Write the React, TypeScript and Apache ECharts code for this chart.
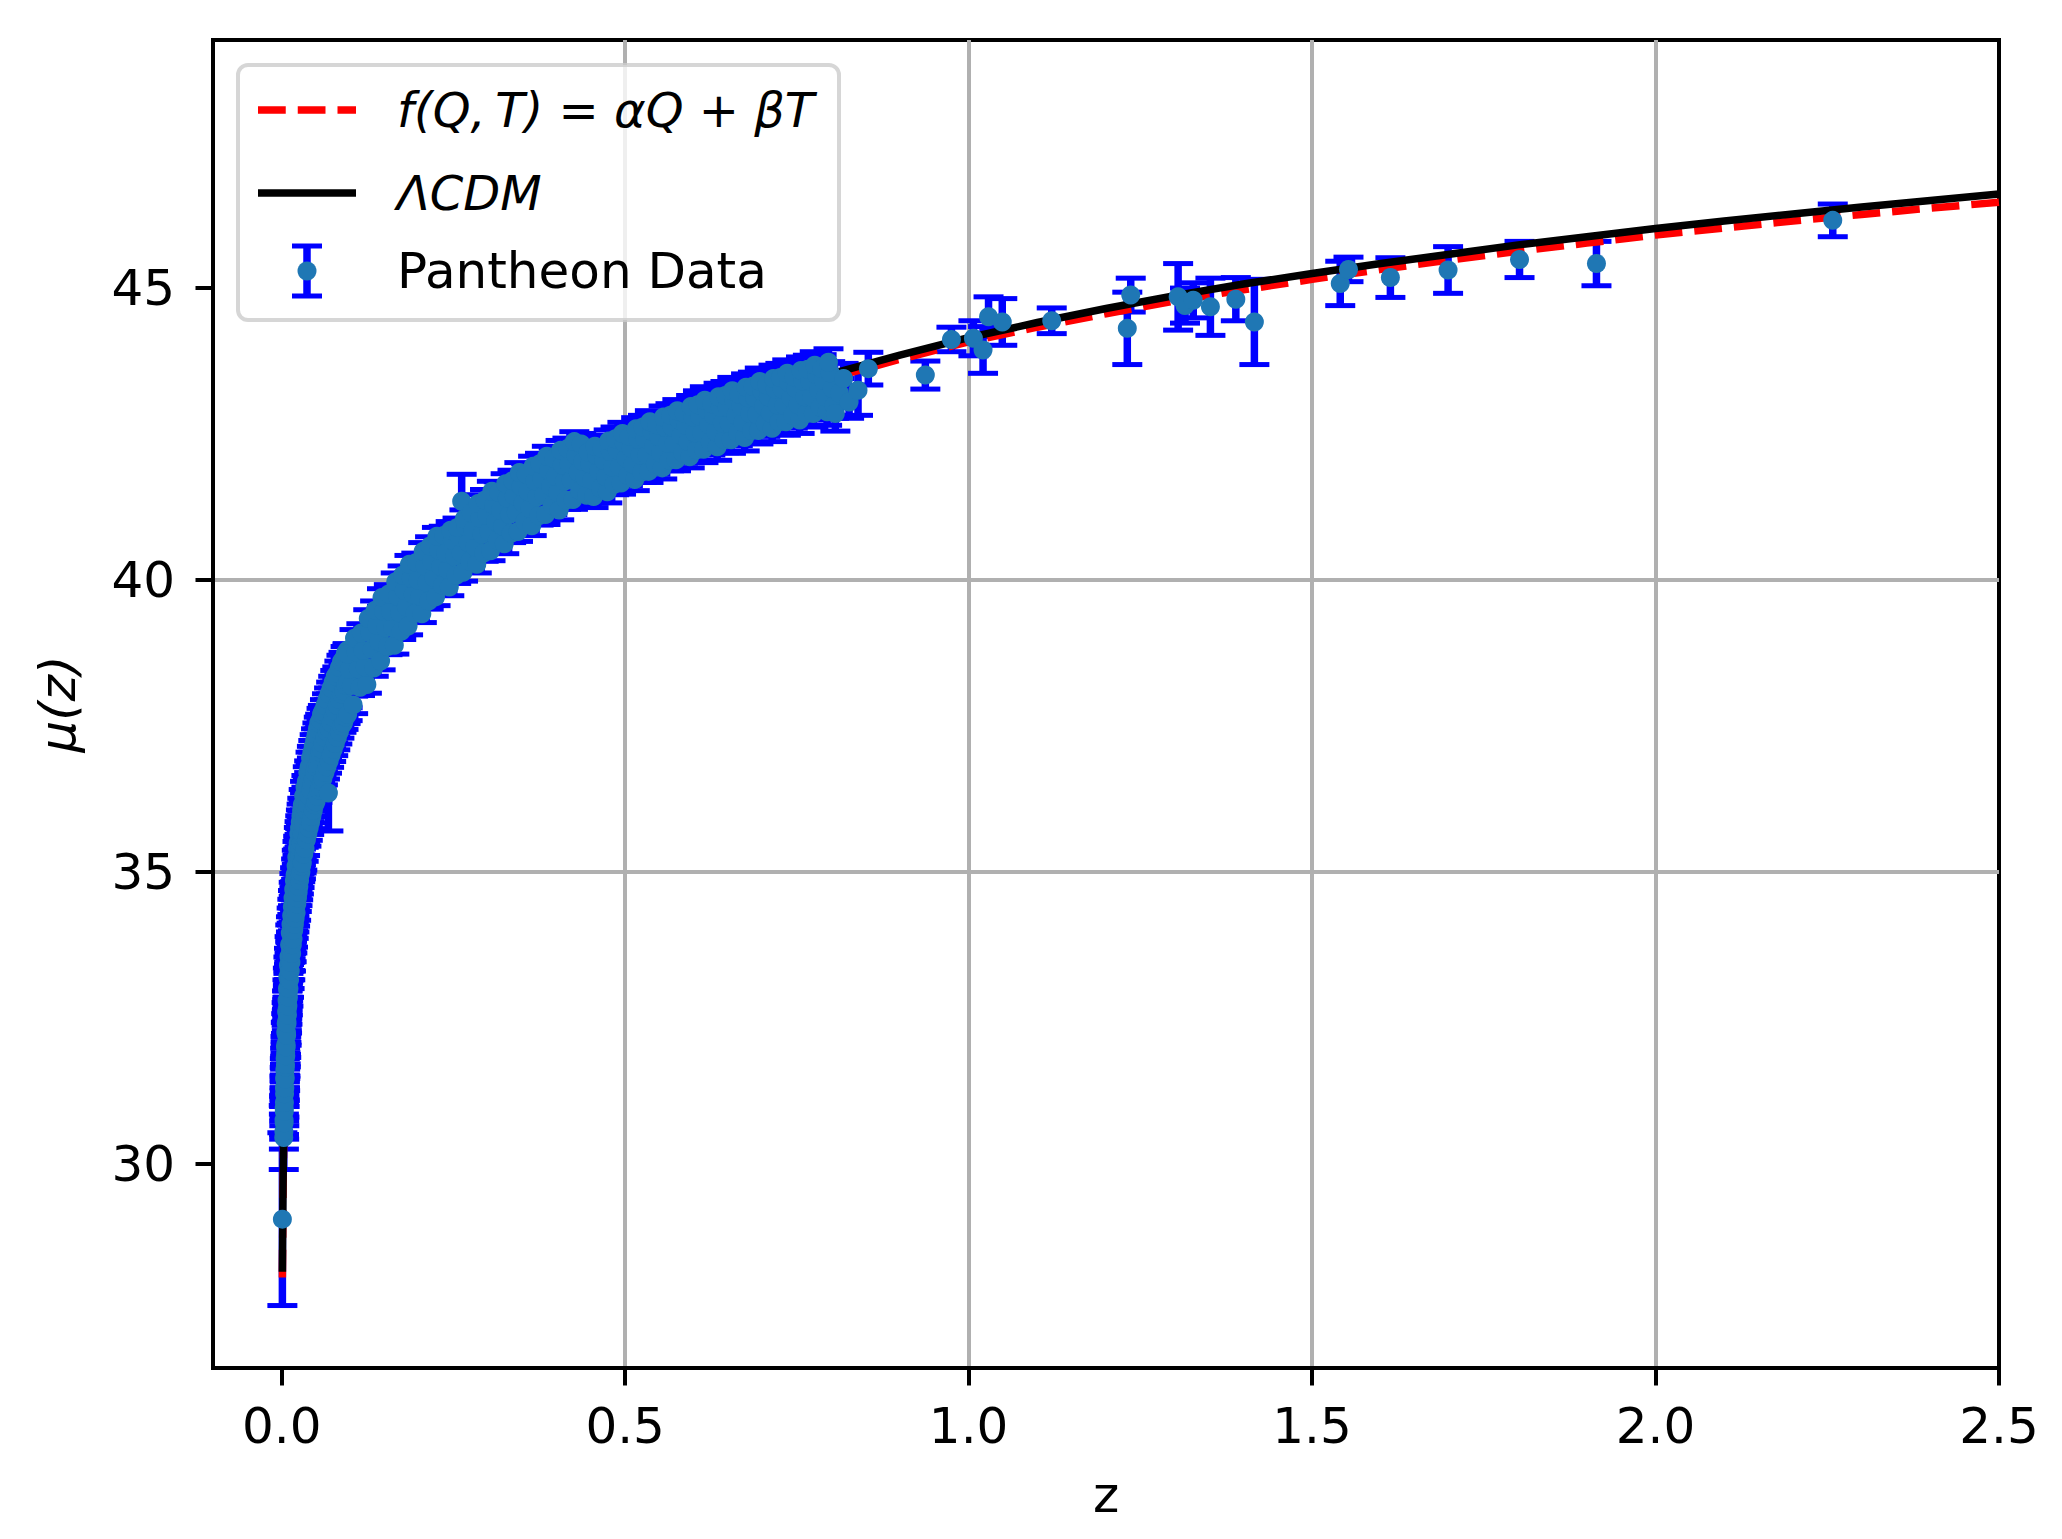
import { useEffect, useRef } from "react";
import * as echarts from "echarts";

// model curves
const zModel = [
  0.001, 0.002, 0.003, 0.005, 0.007, 0.01, 0.015, 0.02, 0.03, 0.04, 0.05, 0.07, 0.1, 0.13, 0.16, 0.2, 0.25,
  0.3, 0.35, 0.4, 0.5, 0.6, 0.7, 0.8, 0.9, 1.0, 1.1, 1.2, 1.3, 1.4, 1.5, 1.6, 1.7, 1.8, 1.9, 2.0, 2.1, 2.2,
  2.3, 2.4, 2.5,
];
const muLCDM = [
  28.15, 29.66, 30.54, 31.66, 32.4, 33.18, 34.07, 34.7, 35.6, 36.24, 36.74, 37.5, 38.31, 38.89, 39.38, 39.92,
  40.48, 40.95, 41.36, 41.7, 42.29, 42.77, 43.18, 43.53, 43.85, 44.15, 44.41, 44.65, 44.87, 45.07, 45.25,
  45.42, 45.58, 45.74, 45.88, 46.02, 46.15, 46.27, 46.39, 46.5, 46.61,
];
const muFQT = [
  28.05, 29.6, 30.5, 31.64, 32.38, 33.17, 34.06, 34.69, 35.59, 36.23, 36.73, 37.49, 38.3, 38.88, 39.37, 39.91,
  40.47, 40.93, 41.33, 41.67, 42.25, 42.72, 43.12, 43.46, 43.78, 44.08, 44.33, 44.56, 44.78, 44.97, 45.15,
  45.32, 45.48, 45.63, 45.77, 45.91, 46.03, 46.15, 46.26, 46.37, 46.47,
];

// Pantheon points: [z, mu, error]
const pantheonLowZ = [
  [0.001, 29.05, 1.48], [0.003, 30.45, 0.55], [0.0032, 30.55, 0.3], [0.0034, 30.75, 0.25],
  [0.0036, 30.7, 0.28], [0.0036, 30.95, 0.22], [0.0038, 30.9, 0.25], [0.004, 31.05, 0.25], [0.004, 31.3, 0.2],
  [0.0042, 31.2, 0.22], [0.0044, 31.45, 0.2], [0.0046, 31.3, 0.22], [0.0046, 31.6, 0.2], [0.0048, 31.5, 0.2],
  [0.005, 31.45, 0.2], [0.005, 31.8, 0.18], [0.0052, 31.65, 0.19], [0.0055, 31.7, 0.2], [0.0055, 32.0, 0.18],
  [0.0058, 31.9, 0.19], [0.006, 31.85, 0.19], [0.006, 32.25, 0.17], [0.0063, 32.05, 0.18], [0.0066, 32.0, 0.18],
  [0.0066, 32.4, 0.17], [0.0069, 32.25, 0.17], [0.0072, 32.2, 0.17], [0.0072, 32.6, 0.16], [0.0075, 32.45, 0.17],
  [0.0078, 32.4, 0.16], [0.0078, 32.8, 0.16], [0.0081, 32.65, 0.16], [0.0084, 32.55, 0.16], [0.0084, 33.0, 0.15],
  [0.0087, 32.8, 0.16], [0.009, 32.7, 0.15], [0.009, 33.2, 0.15], [0.0094, 32.95, 0.16], [0.0098, 32.85, 0.15],
  [0.0098, 33.4, 0.14], [0.0102, 33.15, 0.15], [0.0106, 33.0, 0.15], [0.0106, 33.55, 0.14], [0.011, 33.3, 0.15],
  [0.0115, 33.15, 0.15], [0.0115, 33.75, 0.14], [0.012, 33.45, 0.14], [0.0125, 33.3, 0.15], [0.0125, 33.95, 0.14],
  [0.013, 33.65, 0.14], [0.0135, 33.45, 0.15], [0.0135, 34.1, 0.13], [0.014, 33.8, 0.14], [0.0145, 33.6, 0.14],
  [0.0145, 34.25, 0.13], [0.015, 33.95, 0.14], [0.0155, 33.75, 0.14], [0.0155, 34.4, 0.13], [0.016, 34.1, 0.13],
  [0.0165, 33.85, 0.14], [0.0165, 34.55, 0.13], [0.017, 34.25, 0.13], [0.0175, 34.0, 0.14], [0.0175, 34.7, 0.12],
  [0.018, 34.4, 0.13], [0.0185, 34.1, 0.13], [0.0185, 34.85, 0.12], [0.019, 34.5, 0.13], [0.0195, 34.2, 0.13],
  [0.0195, 34.95, 0.12], [0.02, 34.65, 0.12],
  [0.021, 34.3, 0.13], [0.021, 35.1, 0.12], [0.021, 34.75, 0.12],
  [0.022, 34.45, 0.13], [0.022, 35.25, 0.12], [0.022, 34.9, 0.12],
  [0.023, 34.55, 0.13], [0.023, 35.4, 0.12], [0.023, 35.0, 0.12],
  [0.024, 34.65, 0.13], [0.024, 35.5, 0.11], [0.024, 35.1, 0.12],
  [0.025, 34.75, 0.13], [0.025, 35.65, 0.11], [0.025, 35.25, 0.12],
  [0.026, 34.85, 0.12], [0.026, 35.75, 0.11], [0.026, 35.3, 0.12],
  [0.027, 34.95, 0.12], [0.027, 35.85, 0.11], [0.027, 35.4, 0.11],
  [0.028, 35.0, 0.12], [0.028, 35.95, 0.11], [0.028, 35.5, 0.11],
  [0.029, 35.1, 0.12], [0.029, 36.05, 0.11], [0.029, 35.6, 0.11],
  [0.03, 35.15, 0.12], [0.03, 36.15, 0.11], [0.03, 35.65, 0.11],
  [0.032, 35.3, 0.12], [0.032, 36.3, 0.11], [0.032, 35.8, 0.11],
  [0.034, 35.4, 0.12], [0.034, 36.45, 0.1], [0.034, 35.95, 0.11],
  [0.036, 35.55, 0.11], [0.036, 36.55, 0.1], [0.036, 36.05, 0.11],
  [0.038, 35.65, 0.11], [0.038, 36.7, 0.1], [0.038, 36.15, 0.1],
  [0.04, 35.75, 0.11], [0.04, 36.8, 0.1], [0.04, 36.3, 0.1],
  [0.042, 35.85, 0.11], [0.042, 36.95, 0.1], [0.042, 36.4, 0.1],
  [0.044, 35.95, 0.11], [0.044, 37.05, 0.1], [0.044, 36.5, 0.1],
  [0.046, 36.05, 0.11], [0.046, 37.15, 0.1], [0.046, 36.6, 0.1],
  [0.048, 36.15, 0.11], [0.048, 37.25, 0.1], [0.048, 36.7, 0.1],
  [0.05, 36.2, 0.11], [0.05, 37.35, 0.1], [0.05, 36.8, 0.1],
  [0.052, 36.3, 0.11], [0.052, 37.45, 0.1], [0.052, 36.85, 0.1],
  [0.054, 36.4, 0.11], [0.054, 37.55, 0.1], [0.054, 36.95, 0.1],
  [0.056, 36.45, 0.11], [0.056, 37.6, 0.1], [0.056, 37.05, 0.1],
  [0.058, 36.55, 0.11], [0.058, 37.7, 0.1], [0.058, 37.1, 0.1],
  [0.06, 36.6, 0.11], [0.06, 37.75, 0.1], [0.06, 37.2, 0.1],
  [0.063, 36.7, 0.11], [0.063, 37.85, 0.1], [0.063, 37.3, 0.1],
  [0.066, 36.8, 0.11], [0.066, 37.95, 0.1], [0.066, 37.4, 0.1],
  [0.068, 36.35, 0.65],
  [0.069, 36.9, 0.11], [0.069, 38.05, 0.1], [0.069, 37.45, 0.1],
  [0.072, 37.0, 0.11], [0.072, 38.15, 0.1], [0.072, 37.55, 0.1],
  [0.075, 37.1, 0.11], [0.075, 38.25, 0.1], [0.075, 37.65, 0.1],
  [0.078, 37.2, 0.11], [0.078, 38.35, 0.1], [0.078, 37.75, 0.1],
  [0.081, 37.3, 0.11], [0.081, 38.4, 0.11], [0.081, 37.85, 0.1],
  [0.084, 37.4, 0.11], [0.084, 38.5, 0.11], [0.084, 37.95, 0.1],
  [0.087, 37.5, 0.11], [0.087, 38.6, 0.11], [0.087, 38.05, 0.1],
  [0.09, 37.55, 0.11], [0.09, 38.65, 0.11], [0.09, 38.1, 0.1],
  [0.093, 37.65, 0.11], [0.093, 38.75, 0.11], [0.093, 38.2, 0.1],
  [0.096, 37.7, 0.11], [0.096, 38.8, 0.11], [0.096, 38.25, 0.1],
];

const pantheonMidZ = [
  [0.104, 37.86, 0.15], [0.1015, 38.19, 0.12], [0.0985, 38.47, 0.13], [0.096, 38.73, 0.16],
  [0.114, 38.16, 0.14], [0.1115, 38.48, 0.12], [0.1085, 38.76, 0.12], [0.106, 39.0, 0.15],
  [0.124, 38.21, 0.15], [0.1215, 38.51, 0.12], [0.1185, 38.79, 0.13], [0.116, 39.09, 0.16],
  [0.134, 38.49, 0.14], [0.1315, 38.81, 0.12], [0.1285, 39.09, 0.12], [0.126, 39.34, 0.15],
  [0.144, 38.61, 0.15], [0.1415, 38.94, 0.12], [0.1385, 39.22, 0.13], [0.136, 39.48, 0.16],
  [0.154, 38.86, 0.14], [0.1515, 39.18, 0.12], [0.1485, 39.46, 0.12], [0.146, 39.7, 0.15],
  [0.164, 38.88, 0.15], [0.1615, 39.18, 0.12], [0.1585, 39.46, 0.13], [0.156, 39.76, 0.16],
  [0.174, 39.12, 0.14], [0.1715, 39.44, 0.12], [0.1685, 39.72, 0.12], [0.166, 39.97, 0.15],
  [0.184, 39.21, 0.15], [0.1815, 39.54, 0.12], [0.1785, 39.82, 0.13], [0.176, 40.08, 0.16],
  [0.194, 39.43, 0.14], [0.1915, 39.75, 0.12], [0.1885, 40.03, 0.12], [0.186, 40.27, 0.15],
  [0.204, 39.42, 0.15], [0.2015, 39.72, 0.12], [0.1985, 40.0, 0.13], [0.196, 40.3, 0.16],
  [0.214, 39.64, 0.14], [0.2115, 39.96, 0.12], [0.2085, 40.24, 0.12], [0.206, 40.49, 0.15],
  [0.224, 39.71, 0.15], [0.2215, 40.04, 0.12], [0.2185, 40.32, 0.13], [0.216, 40.58, 0.16],
  [0.234, 39.91, 0.14], [0.2315, 40.23, 0.12], [0.2285, 40.51, 0.12], [0.226, 40.75, 0.15],
  [0.244, 39.88, 0.15], [0.2415, 40.18, 0.12], [0.2385, 40.46, 0.13], [0.236, 40.76, 0.16],
  [0.254, 40.08, 0.14], [0.2515, 40.4, 0.12], [0.2485, 40.68, 0.12], [0.246, 40.85, 0.15],
  [0.264, 40.13, 0.15], [0.2615, 40.46, 0.12], [0.2585, 40.74, 0.13], [0.256, 40.9, 0.16],
  [0.262, 41.35, 0.46],
  [0.274, 40.32, 0.14], [0.2715, 40.64, 0.12], [0.2685, 40.92, 0.12], [0.266, 41.05, 0.15],
  [0.284, 40.27, 0.15], [0.2815, 40.57, 0.12], [0.2785, 40.85, 0.13], [0.276, 41.15, 0.16],
  [0.294, 40.46, 0.14], [0.2915, 40.78, 0.12], [0.2885, 41.06, 0.12], [0.286, 41.31, 0.15],
  [0.304, 40.5, 0.17], [0.3015, 40.83, 0.14], [0.2985, 41.11, 0.15], [0.296, 41.37, 0.18],
  [0.314, 40.68, 0.16], [0.3115, 41.0, 0.14], [0.3085, 41.28, 0.14], [0.306, 41.52, 0.17],
  [0.324, 40.62, 0.17], [0.3215, 40.92, 0.14], [0.3185, 41.2, 0.15], [0.316, 41.5, 0.18],
  [0.334, 40.8, 0.16], [0.3315, 41.12, 0.14], [0.3285, 41.4, 0.14], [0.326, 41.65, 0.17],
  [0.344, 40.83, 0.17], [0.3415, 41.16, 0.14], [0.3385, 41.44, 0.15], [0.336, 41.7, 0.18],
  [0.354, 41.0, 0.16], [0.3515, 41.32, 0.14], [0.3485, 41.6, 0.14], [0.346, 41.84, 0.17],
  [0.364, 40.93, 0.17], [0.3615, 41.23, 0.14], [0.3585, 41.51, 0.15], [0.356, 41.81, 0.18],
  [0.374, 41.1, 0.16], [0.3715, 41.42, 0.14], [0.3685, 41.7, 0.14], [0.366, 41.95, 0.17],
  [0.384, 41.12, 0.17], [0.3815, 41.45, 0.14], [0.3785, 41.73, 0.15], [0.376, 41.99, 0.18],
  [0.394, 41.28, 0.16], [0.3915, 41.6, 0.14], [0.3885, 41.88, 0.14], [0.386, 42.12, 0.17],
  [0.404, 41.2, 0.17], [0.4015, 41.5, 0.14], [0.3985, 41.78, 0.15], [0.396, 42.08, 0.18],
  [0.414, 41.37, 0.16], [0.4115, 41.69, 0.14], [0.4085, 41.97, 0.14], [0.406, 42.22, 0.17],
  [0.424, 41.38, 0.17], [0.4215, 41.71, 0.14], [0.4185, 41.99, 0.15], [0.416, 42.25, 0.18],
  [0.434, 41.53, 0.16], [0.4315, 41.85, 0.14], [0.4285, 42.13, 0.14], [0.426, 42.37, 0.17],
  [0.444, 41.45, 0.17], [0.4415, 41.75, 0.14], [0.4385, 42.03, 0.15], [0.436, 42.33, 0.18],
  [0.454, 41.43, 0.19], [0.4515, 41.71, 0.16], [0.4485, 41.99, 0.17], [0.446, 42.19, 0.2],
  [0.464, 41.57, 0.18], [0.4615, 41.87, 0.16], [0.4585, 42.13, 0.16], [0.456, 42.29, 0.19],
  [0.474, 41.51, 0.19], [0.4715, 41.77, 0.16], [0.4685, 42.05, 0.17], [0.466, 42.25, 0.2],
  [0.484, 41.64, 0.18], [0.4815, 41.93, 0.16], [0.4785, 42.2, 0.16], [0.476, 42.38, 0.19],
  [0.494, 41.66, 0.19], [0.4915, 41.94, 0.16], [0.4885, 42.22, 0.17], [0.486, 42.42, 0.2],
  [0.504, 41.79, 0.18], [0.5015, 42.09, 0.16], [0.4985, 42.35, 0.16], [0.496, 42.51, 0.19],
  [0.514, 41.72, 0.19], [0.5115, 41.98, 0.16], [0.5085, 42.26, 0.17], [0.506, 42.46, 0.2],
  [0.524, 41.85, 0.18], [0.5215, 42.14, 0.16], [0.5185, 42.41, 0.16], [0.516, 42.59, 0.19],
  [0.534, 41.86, 0.19], [0.5315, 42.14, 0.16], [0.5285, 42.42, 0.17], [0.526, 42.62, 0.2],
  [0.544, 41.99, 0.18], [0.5415, 42.29, 0.16], [0.5385, 42.55, 0.16], [0.536, 42.71, 0.19],
  [0.554, 41.92, 0.19], [0.5515, 42.18, 0.16], [0.5485, 42.46, 0.17], [0.546, 42.66, 0.2],
  [0.564, 42.05, 0.18], [0.5615, 42.34, 0.16], [0.5585, 42.61, 0.16], [0.556, 42.79, 0.19],
  [0.574, 42.06, 0.19], [0.5715, 42.34, 0.16], [0.5685, 42.62, 0.17], [0.566, 42.82, 0.2],
  [0.584, 42.18, 0.18], [0.5815, 42.48, 0.16], [0.5785, 42.74, 0.16], [0.576, 42.9, 0.19],
  [0.594, 42.11, 0.19], [0.5915, 42.37, 0.16], [0.5885, 42.65, 0.17], [0.586, 42.85, 0.2],
  [0.604, 42.23, 0.18], [0.6015, 42.52, 0.16], [0.5985, 42.79, 0.16], [0.596, 42.97, 0.19],
  [0.614, 42.24, 0.23], [0.6115, 42.52, 0.19], [0.6085, 42.8, 0.2], [0.606, 43.0, 0.24],
  [0.624, 42.36, 0.22], [0.6215, 42.66, 0.19], [0.6185, 42.92, 0.19], [0.616, 43.08, 0.23],
  [0.634, 42.28, 0.23], [0.6315, 42.54, 0.19], [0.6285, 42.82, 0.2], [0.626, 43.02, 0.24],
  [0.644, 42.4, 0.22], [0.6415, 42.69, 0.19], [0.6385, 42.96, 0.19], [0.636, 43.14, 0.23],
  [0.654, 42.4, 0.23], [0.6515, 42.68, 0.19], [0.6485, 42.96, 0.2], [0.646, 43.16, 0.24],
  [0.664, 42.52, 0.22], [0.6615, 42.82, 0.19], [0.6585, 43.08, 0.19], [0.656, 43.24, 0.23],
  [0.674, 42.44, 0.23], [0.6715, 42.7, 0.19], [0.6685, 42.98, 0.2], [0.666, 43.18, 0.24],
  [0.684, 42.56, 0.22], [0.6815, 42.85, 0.19], [0.6785, 43.12, 0.19], [0.676, 43.3, 0.23],
  [0.694, 42.56, 0.23], [0.6915, 42.84, 0.19], [0.6885, 43.12, 0.2], [0.686, 43.32, 0.24],
  [0.704, 42.68, 0.22], [0.7015, 42.98, 0.19], [0.6985, 43.24, 0.19], [0.696, 43.4, 0.23],
  [0.714, 42.6, 0.23], [0.7115, 42.86, 0.19], [0.7085, 43.14, 0.2], [0.706, 43.34, 0.24],
  [0.724, 42.71, 0.22], [0.7215, 43.0, 0.19], [0.7185, 43.27, 0.19], [0.716, 43.45, 0.23],
  [0.734, 42.71, 0.23], [0.7315, 42.99, 0.19], [0.7285, 43.27, 0.2], [0.726, 43.47, 0.24],
  [0.744, 42.82, 0.22], [0.7415, 43.12, 0.19], [0.7385, 43.38, 0.19], [0.736, 43.54, 0.23],
  [0.754, 42.74, 0.23], [0.7515, 43.0, 0.19], [0.7485, 43.28, 0.2], [0.746, 43.48, 0.24],
  [0.764, 42.85, 0.22], [0.7615, 43.14, 0.19], [0.7585, 43.41, 0.19], [0.756, 43.59, 0.23],
  [0.774, 42.85, 0.23], [0.7715, 43.13, 0.19], [0.7685, 43.41, 0.2], [0.766, 43.61, 0.24],
  [0.784, 42.96, 0.22], [0.7815, 43.26, 0.19], [0.7785, 43.52, 0.19], [0.776, 43.68, 0.23],
  [0.794, 42.88, 0.23], [0.7915, 43.14, 0.19], [0.7885, 43.42, 0.2], [0.786, 43.62, 0.24],
  [0.804, 42.99, 0.22], [0.8015, 43.28, 0.19], [0.7985, 43.55, 0.19], [0.796, 43.73, 0.23],
  [0.806, 42.85, 0.3], [0.812, 43.2, 0.25], [0.818, 43.45, 0.26], [0.826, 43.05, 0.28],
];

const pantheonHighZ = [
  [0.839, 43.25, 0.43], [0.854, 43.62, 0.28], [0.937, 43.51, 0.24], [0.975, 44.12, 0.21],
  [1.007, 44.14, 0.3], [1.021, 43.94, 0.4], [1.029, 44.51, 0.34], [1.049, 44.42, 0.4],
  [1.121, 44.44, 0.22], [1.231, 44.31, 0.62], [1.236, 44.88, 0.29], [1.305, 44.85, 0.57],
  [1.315, 44.7, 0.3], [1.327, 44.79, 0.3], [1.352, 44.68, 0.49], [1.389, 44.81, 0.37],
  [1.416, 44.42, 0.73], [1.541, 45.08, 0.38], [1.553, 45.32, 0.21], [1.614, 45.18, 0.34],
  [1.698, 45.31, 0.4], [1.802, 45.49, 0.31], [1.914, 45.42, 0.38], [2.258, 46.16, 0.28],
];

const xTicks = [0, 0.5, 1, 1.5, 2, 2.5];
const yTicks = [30, 35, 40, 45];
const legendLabels = ["f(Q,\u2009T) = αQ + βT", "ΛCDM", "Pantheon Data"];

const FONT = '"DejaVu Sans", sans-serif';
const ERR_BLUE = "#0000ff";
const MARKER = "#1f77b4";
const CAP = 15;

const onStep = (v: number, step: number) => Math.abs(v / step - Math.round(v / step)) < 1e-6;

export default function App() {
  const chartRef = useRef<HTMLDivElement>(null);

  useEffect(() => {
    if (!chartRef.current) return;
    const chart = echarts.init(chartRef.current, null, { renderer: "svg" });
    const pantheon = [...pantheonLowZ, ...pantheonMidZ, ...pantheonHighZ];

    // matplotlib errorbar: 1.5pt bar, 1pt caps
    const barStyle = { stroke: ERR_BLUE, lineWidth: 7.5 };
    const capStyle = { stroke: ERR_BLUE, lineWidth: 5 };
    const renderErrorBar = (_params: any, api: any) => {
      const x = api.value(0);
      const y = api.value(1);
      const e = api.value(2);
      const top = api.coord([x, y + e]);
      const bot = api.coord([x, y - e]);
      return {
        type: "group",
        children: [
          { type: "line", shape: { x1: top[0], y1: top[1], x2: bot[0], y2: bot[1] }, style: barStyle },
          { type: "line", shape: { x1: top[0] - CAP, y1: top[1], x2: top[0] + CAP, y2: top[1] }, style: capStyle },
          { type: "line", shape: { x1: bot[0] - CAP, y1: bot[1], x2: bot[0] + CAP, y2: bot[1] }, style: capStyle },
        ],
      };
    };

    // legend box, matplotlib style (upper left)
    const legendText = (y: number, text: string, italic: boolean) => ({
      type: "text",
      x: 397,
      y,
      z: 101,
      style: {
        text,
        font: italic ? 'italic 48px "DejaVu Sans"' : '50px "DejaVu Sans"',
        fill: "#000",
        verticalAlign: "middle",
      },
    });
    const legend = [
      {
        type: "rect",
        z: 100,
        shape: { x: 238, y: 65, width: 601, height: 255, r: 10 },
        style: { fill: "rgba(255,255,255,0.8)", stroke: "rgba(204,204,204,0.8)", lineWidth: 4 },
      },
      {
        type: "line",
        z: 101,
        shape: { x1: 258, y1: 110, x2: 356, y2: 110 },
        style: { stroke: "#ff0000", lineWidth: 7.5, lineDash: [27.75, 12] },
      },
      legendText(110, legendLabels[0], true),
      {
        type: "line",
        z: 101,
        shape: { x1: 258, y1: 193, x2: 356, y2: 193 },
        style: { stroke: "#000", lineWidth: 7.5 },
      },
      legendText(193, legendLabels[1], true),
      { type: "line", z: 101, shape: { x1: 307, y1: 246, x2: 307, y2: 296 }, style: barStyle },
      { type: "line", z: 101, shape: { x1: 292, y1: 246, x2: 322, y2: 246 }, style: capStyle },
      { type: "line", z: 101, shape: { x1: 292, y1: 296, x2: 322, y2: 296 }, style: capStyle },
      { type: "circle", z: 102, shape: { cx: 307, cy: 271, r: 9.5 }, style: { fill: MARKER } },
      legendText(271, legendLabels[2], false),
    ];

    const axisCommon = {
      axisLine: { onZero: false, lineStyle: { color: "#000", width: 4 } },
      splitLine: { show: true, showMinLine: false, showMaxLine: false, lineStyle: { color: "#b0b0b0", width: 4 } },
      nameLocation: "middle",
    };

    const option: any = {
      animation: false,
      backgroundColor: "#ffffff",
      grid: {
        left: 213,
        right: 63,
        top: 40,
        bottom: 171,
        show: true,
        borderColor: "#000",
        borderWidth: 4,
        backgroundColor: "transparent",
      },
      xAxis: {
        ...axisCommon,
        type: "value",
        min: -0.1,
        max: 2.5,
        axisTick: { show: true, length: 17.5, customValues: xTicks, lineStyle: { color: "#000", width: 4 } },
        axisLabel: {
          customValues: xTicks,
          formatter: (v: number) => (onStep(v, 0.5) ? v.toFixed(1) : ""),
          fontSize: 50,
          fontFamily: FONT,
          color: "#000",
          margin: 33,
        },
        name: "z",
        nameGap: 102,
        nameTextStyle: { fontSize: 50, fontFamily: FONT, color: "#000" },
      },
      yAxis: {
        ...axisCommon,
        type: "value",
        min: 26.5,
        max: 49.25,
        axisTick: { show: true, length: 17.5, customValues: yTicks, lineStyle: { color: "#000", width: 4 } },
        axisLabel: {
          customValues: yTicks,
          formatter: (v: number) => (onStep(v, 5) ? String(v) : ""),
          fontSize: 50,
          fontFamily: FONT,
          color: "#000",
          margin: 38,
        },
        name: "μ(z)",
        nameGap: 130,
        nameTextStyle: { fontSize: 50, fontFamily: FONT, fontStyle: "italic", color: "#000" },
      },
      graphic: legend,
      // draw order as in matplotlib: error bars, model curves, then markers
      series: [
        {
          name: "Pantheon errors",
          type: "custom",
          z: 2,
          silent: true,
          renderItem: renderErrorBar,
          encode: { x: 0, y: 1 },
          data: pantheon,
        },
        {
          name: legendLabels[0],
          type: "line",
          z: 3,
          symbol: "none",
          silent: true,
          data: zModel.map((z, i) => [z, muFQT[i]]),
          lineStyle: { color: "#ff0000", width: 7.5, type: [27.75, 12] },
        },
        {
          name: legendLabels[1],
          type: "line",
          z: 4,
          symbol: "none",
          silent: true,
          data: zModel.map((z, i) => [z, muLCDM[i]]),
          lineStyle: { color: "#000000", width: 7.5 },
        },
        {
          name: legendLabels[2],
          type: "scatter",
          z: 5,
          silent: true,
          symbol: "circle",
          symbolSize: 19,
          itemStyle: { color: MARKER, opacity: 1 },
          data: pantheon.map((p) => [p[0], p[1]]),
        },
      ],
    };

    chart.setOption(option);
    return () => chart.dispose();
  }, []);

  return (
    <div
      ref={chartRef}
      style={{ position: "absolute", left: 0, top: 0, width: 2062, height: 1539, background: "#fff" }}
    />
  );
}
